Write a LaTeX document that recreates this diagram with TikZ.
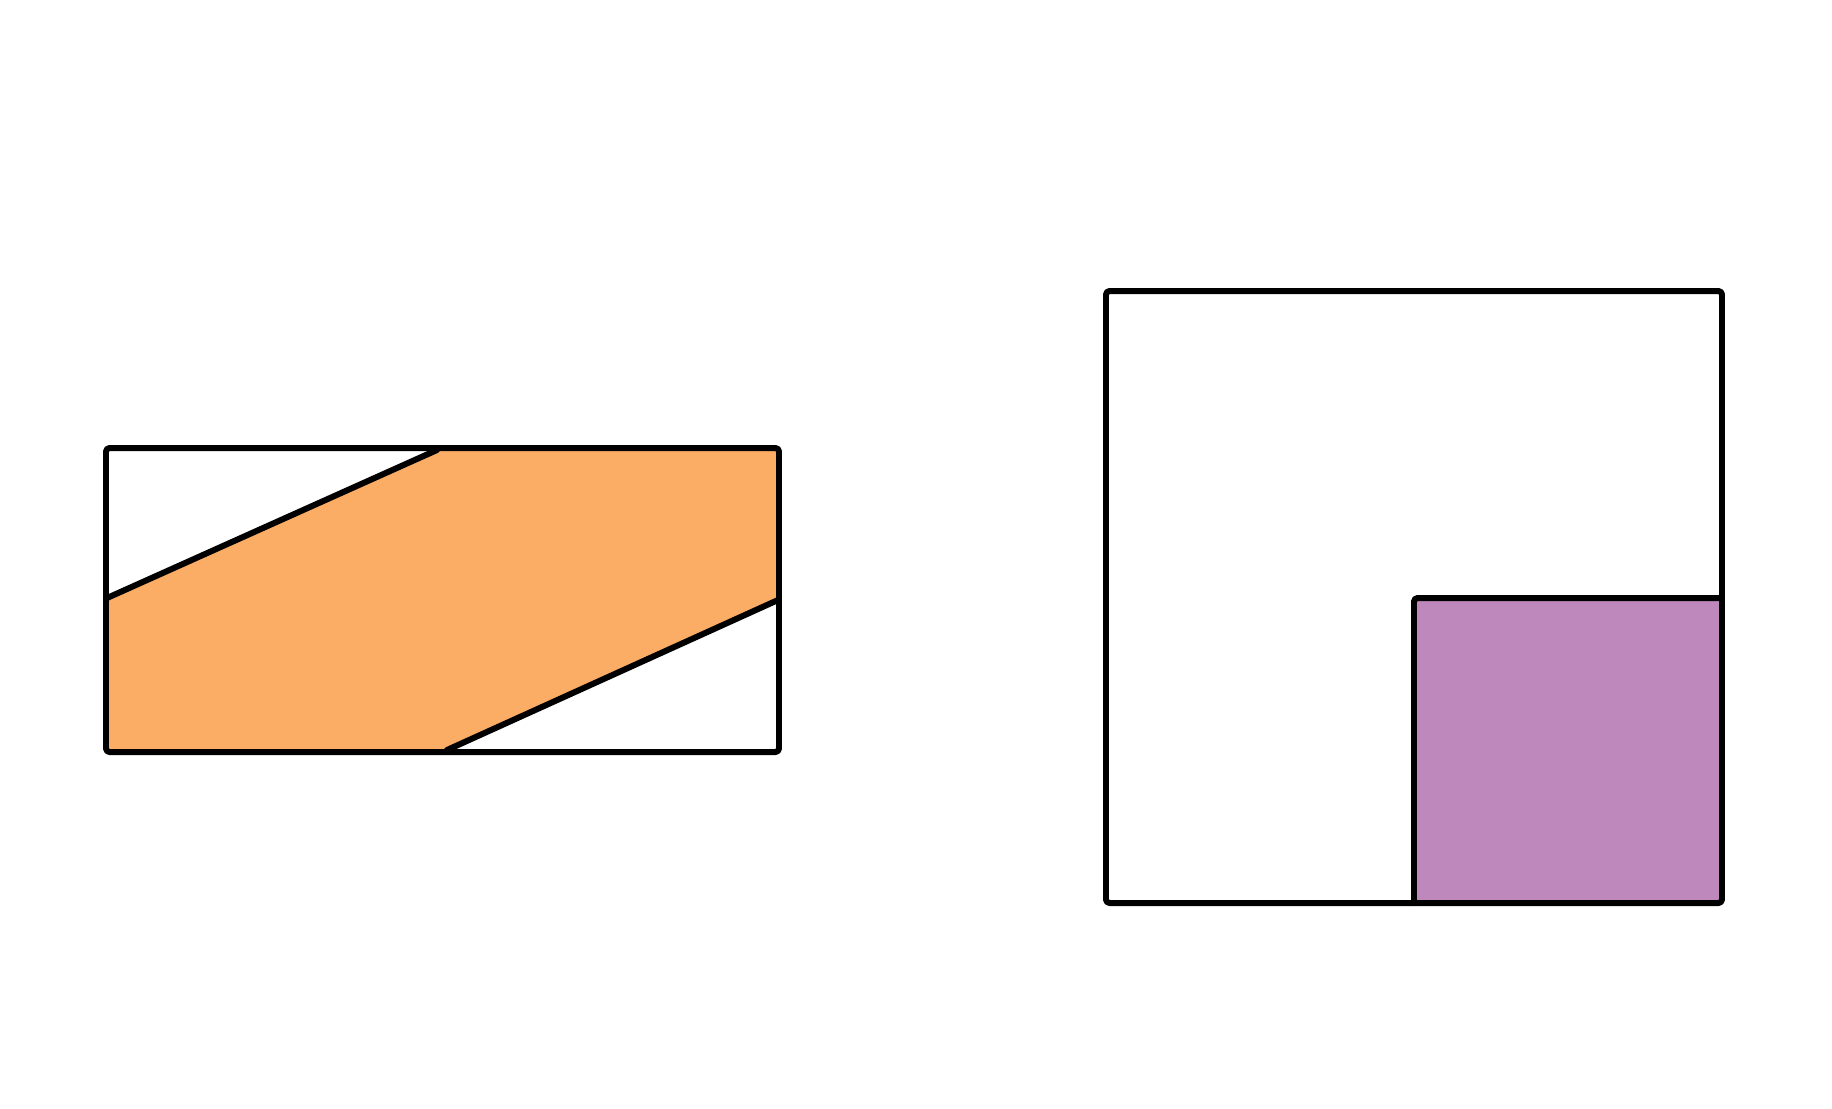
\documentclass[tikz,border=0pt]{standalone}
\usepackage{tikz}
\usepackage{xcolor}
\usetikzlibrary{calc,positioning}
\definecolor{bandorange}{RGB}{251,173,102}
\definecolor{quarterlilac}{RGB}{190,136,188}
\tikzset{%
	outline/.style = {draw, line width=1.7pt, line join=round, line cap=round, rounded corners=1pt},
	band/.style    = {fill=bandorange},
	quarter/.style = {fill=quarterlilac},
}

\begin{document}
\begin{tikzpicture}[x=0.01cm,y=-0.01cm]
		\useasboundingbox (0,0) rectangle (1832,1108);
		
		% rectangle with slanted band
		\fill[band] (106,599) -- (435,451) -- (779,451) -- (779,600) -- (447,752) -- (106,752) -- cycle;
		\draw[outline] (106,448) rectangle (779,752);
		\draw[outline] (107,598) -- (437,450);
		\draw[outline] (447,750) -- (778,600);
		
		% square with shaded quarter
		\fill[quarter] (1414,598) rectangle (1722,903);
		\draw[outline] (1106,291) rectangle (1722,903);
		\draw[outline] (1414,903) |- (1722,598);
\end{tikzpicture}
\end{document}
